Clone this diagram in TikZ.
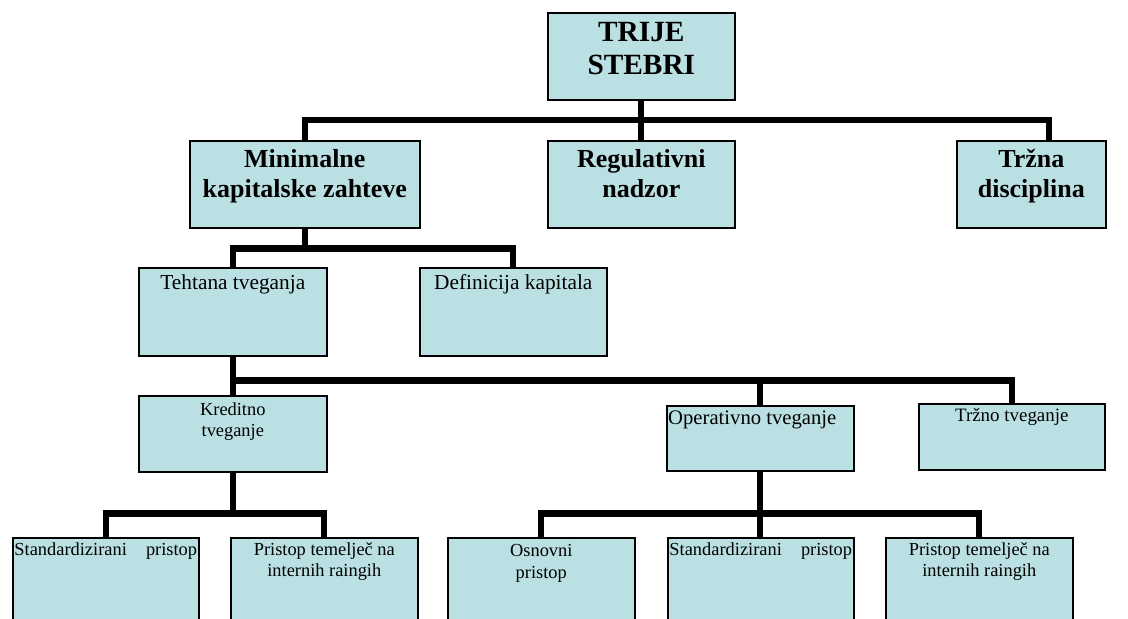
\documentclass[tikz,border=0pt]{standalone}
\usepackage{fontspec}
\setmainfont{Liberation Serif}
\definecolor{boxfill}{RGB}{187,224,227}

\begin{document}
\begin{tikzpicture}[
    x=0.75pt, y=-0.75pt,
    tier/.style={draw=black, fill=boxfill, line width=1.2pt, anchor=north west, inner sep=0pt},
    head/.style={anchor=north, align=center, inner xsep=2pt, inner ysep=7pt, font=\fontsize{19.5}{22.5}\selectfont\bfseries},
    sub/.style={anchor=north, align=center, inner xsep=2pt, inner ysep=5.6pt, font=\fontsize{16}{18}\selectfont},
    leaf/.style={anchor=north, align=center, inner xsep=2pt, inner ysep=4pt, font=\fontsize{13.8}{16}\selectfont},
    link/.style={line width=4.7pt}
]
    \useasboundingbox (0,0) rectangle (1128,618);
    \clip (0,0) rectangle (1128,618);

    % Level 0
    \node[tier, minimum width=140.25pt, minimum height=65.25pt,
          label={[head, inner ysep=7.5pt, font=\fontsize{22}{25}\selectfont\bfseries]north:TRIJE\\STEBRI}] (top) at (547,12) {};

    % Level 1: the three pillars
    \node[tier, minimum width=172.5pt, minimum height=65.25pt,
          label={[head]north:Minimalne\\kapitalske zahteve}] (min) at (189,140) {};
    \node[tier, minimum width=140.25pt, minimum height=65.25pt,
          label={[head]north:Regulativni\\nadzor}] (reg) at (547,140) {};
    \node[tier, minimum width=111.75pt, minimum height=65.25pt,
          label={[head]north:Tržna\\disciplina}] (trz) at (956,140) {};

    % Level 2
    \node[tier, minimum width=141pt, minimum height=66pt,
          label={[sub]north:Tehtana tveganja}] (teht) at (138,267) {};
    \node[tier, minimum width=140.25pt, minimum height=66pt,
          label={[sub]north:Definicija kapitala}] (def) at (419,267) {};

    % Level 3: risk types
    \node[tier, minimum width=141pt, minimum height=57pt,
          label={[leaf, inner ysep=5.6pt]north:Kreditno\\tveganje}] (kred) at (138,395) {};
    \node[tier, minimum width=140.25pt, minimum height=48.75pt,
          label={[leaf, xshift=-6pt, font=\fontsize{15.5}{18}\selectfont]north:Operativno tveganje}] (oper) at (666,405) {};
    \node[tier, minimum width=139.5pt, minimum height=49.5pt,
          label={[leaf, font=\fontsize{14.2}{16}\selectfont]north:Tržno tveganje}] (trzt) at (918,403) {};

    % Level 4: approaches
    \node[tier, minimum width=139.5pt, minimum height=75pt,
          label={[leaf, align=left, text width=137pt, inner xsep=1pt]north:Standardizirani\hfill pristop}] (std1) at (12,537) {};
    \node[tier, minimum width=140.25pt, minimum height=75pt,
          label={[leaf]north:Pristop temelječ na\\internih raingih}] (prist1) at (230,537) {};
    \node[tier, minimum width=140.25pt, minimum height=75pt,
          label={[leaf, inner ysep=5.5pt]north:Osnovni\\pristop}] (osn) at (447,537) {};
    \node[tier, minimum width=139.5pt, minimum height=75pt,
          label={[leaf, align=left, text width=137pt, inner xsep=1pt]north:Standardizirani\hfill pristop}] (std2) at (667,537) {};
    \node[tier, minimum width=140.25pt, minimum height=75pt,
          label={[leaf]north:Pristop temelječ na\\internih raingih}] (prist2) at (885,537) {};

    % Connectors
    \draw[link] (top.south) -- (reg.north);
    \draw[link] (min.north) -- ++(0,-20) -| ([xshift=13pt]trz.north);

    \draw[link] (min.south) -- ++(0,20) -| (teht.north);
    \draw[link] (min.south) -- ++(0,20) -| (def.north);

    \draw[link] (teht.south) -- (kred.north);
    \draw[link] (teht.south) -- ++(0,24) -| (oper.north);
    \draw[link] (teht.south) -- ++(0,24) -| (trzt.north);

    \draw[link] (kred.south) -- ++(0,41) -| (std1.north);
    \draw[link] (kred.south) -- ++(0,41) -| (prist1.north);

    \draw[link] (oper.south) -- (oper.south |- std2.north);
    \draw[link] (oper.south) -- ++(0,42) -| (osn.north);
    \draw[link] (oper.south) -- ++(0,42) -| (prist2.north);
\end{tikzpicture}
\end{document}
